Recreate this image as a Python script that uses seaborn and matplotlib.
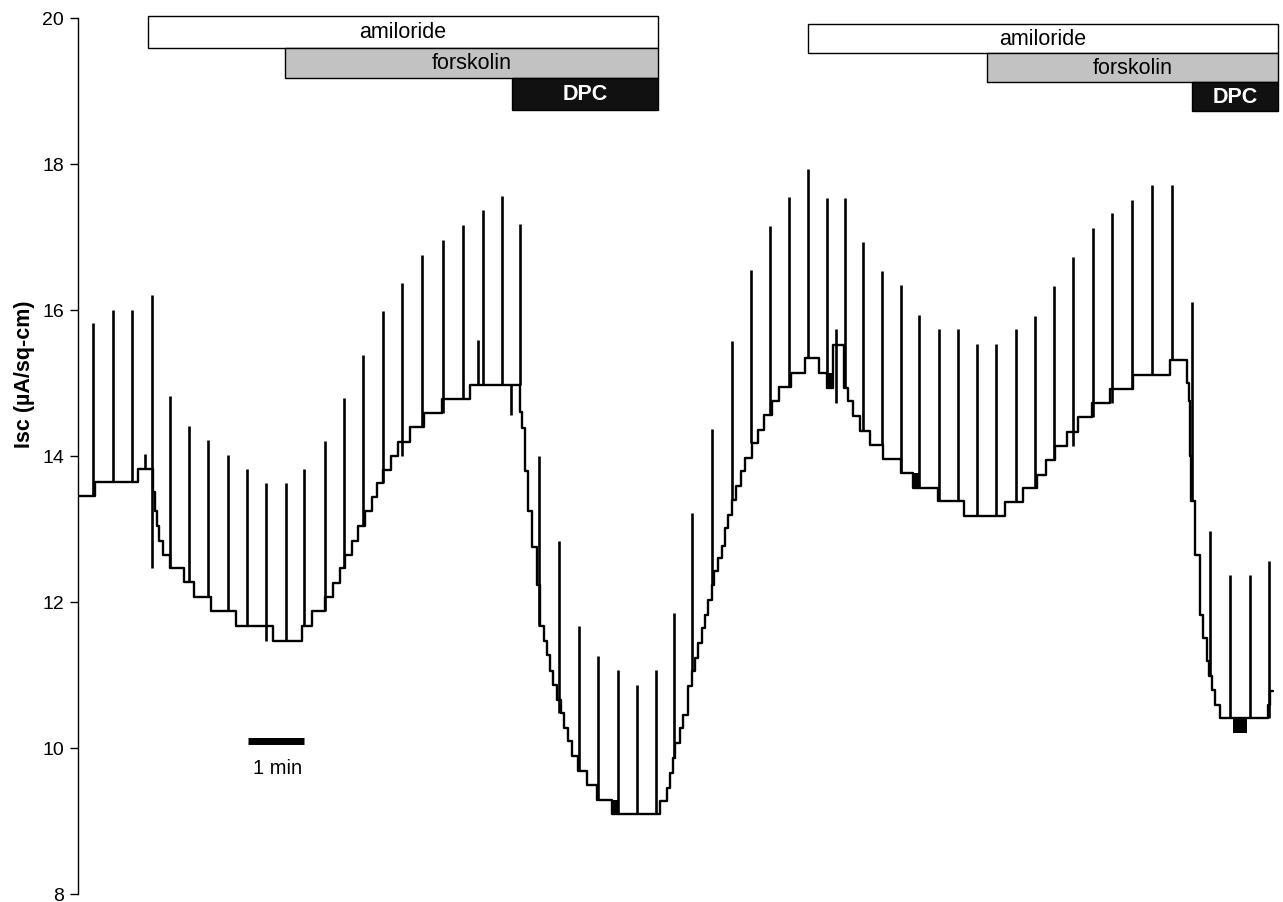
import numpy as np
import pandas as pd
import matplotlib
matplotlib.use("Agg")
import matplotlib.pyplot as plt
import seaborn as sns

# baseline short-circuit current (step trace), time in s, Isc in uA/sq-cm
trace_t = [0, 18, 64, 80, 83, 85, 87, 91, 99, 114, 124, 143, 169, 209, 240, 251, 265, 273,
           281, 286, 294, 300, 307, 315, 320, 327, 335, 343, 356, 371, 390, 420,
           474, 476, 479, 482, 486, 492, 495, 499, 503, 506, 509, 513, 517, 521, 525, 529,
           536, 545, 556, 572, 624, 631, 634, 638, 640, 645, 648, 653, 654, 658, 661, 664,
           669, 672, 675, 679, 681, 686, 690, 693, 696, 701, 705, 710, 715, 722, 728, 735,
           744, 751, 764, 779, 794, 802, 809, 821, 825, 830, 838, 849, 862, 882, 895, 921,
           949, 993, 1012, 1027, 1037, 1047, 1060, 1071, 1086, 1106, 1130, 1170, 1188, 1190,
           1191, 1192, 1197, 1202, 1205, 1210, 1212, 1215, 1218, 1224, 1275, 1277, 1280]
trace_isc = [13.45, 13.65, 13.82, 13.5, 13.25, 13.04, 12.84, 12.64, 12.47, 12.27, 12.07, 11.88,
             11.67, 11.47, 11.67, 11.88, 12.07, 12.26, 12.47, 12.64, 12.84, 13.04, 13.25, 13.44,
             13.63, 13.81, 14.0, 14.19, 14.4, 14.59, 14.78, 14.97,
             14.6, 14.38, 13.8, 13.25, 12.75, 12.23, 11.67, 11.47, 11.27, 11.05, 10.86, 10.66,
             10.48, 10.27, 10.1, 9.89, 9.68, 9.49, 9.29, 9.1, 9.27, 9.45, 9.66, 9.86, 10.07,
             10.27, 10.45, 10.66, 10.85, 11.05, 11.23, 11.44, 11.64, 11.82, 12.03, 12.23, 12.42,
             12.6, 12.77, 13.01, 13.19, 13.4, 13.59, 13.79, 13.97, 14.18, 14.36, 14.56, 14.75,
             14.95, 15.14, 15.34, 15.14, 14.93, 15.52, 14.93, 14.75, 14.55, 14.34, 14.15, 13.96,
             13.77, 13.56, 13.38, 13.18, 13.37, 13.56, 13.74, 13.94, 14.14, 14.33, 14.53, 14.73,
             14.92, 15.11, 15.31, 15.0, 14.75, 14.0, 13.38, 12.64, 11.82, 11.5, 11.19, 10.99,
             10.8, 10.59, 10.41, 10.59, 10.78, 10.78]

# voltage pulse deflections: time, bottom, top
spike_t = [16, 38, 58, 72, 79, 99, 119, 139, 161, 181, 201, 223, 242, 265, 285, 305, 327, 347,
           369, 391, 412, 429, 434, 454, 464, 474, 494, 515, 537, 557, 579, 599, 619, 639, 658,
           679, 701, 721, 741, 762, 782, 802, 812, 822, 841, 861, 882, 901, 922, 943, 963, 984,
           1005, 1025, 1046, 1066, 1087, 1108, 1129, 1151, 1172, 1194, 1213, 1234, 1256, 1276]
spike_lo = [13.45, 13.65, 13.65, 13.82, 12.47, 12.47, 12.27, 12.07, 11.88, 11.67, 11.47, 11.47,
            11.67, 11.88, 12.47, 13.04, 13.63, 14.0, 14.4, 14.59, 14.78, 14.97, 14.97, 14.97,
            14.56, 14.97, 11.67, 10.48, 9.68, 9.29, 9.1, 9.1, 9.1, 9.86, 11.05, 12.23, 13.4,
            14.18, 14.56, 14.95, 15.34, 14.93, 14.73, 14.93, 14.34, 14.15, 13.77, 13.56, 13.38,
            13.38, 13.18, 13.18, 13.37, 13.56, 13.94, 14.14, 14.53, 14.73, 14.92, 15.11, 15.31,
            13.38, 10.99, 10.41, 10.41, 10.41]
spike_hi = [15.82, 16.0, 16.0, 14.03, 16.2, 14.82, 14.41, 14.22, 14.01, 13.82, 13.63, 13.63,
            13.82, 14.2, 14.8, 15.38, 15.98, 16.37, 16.75, 16.96, 17.16, 15.59, 17.37, 17.56,
            14.97, 17.18, 14.0, 12.84, 11.67, 11.26, 11.07, 10.86, 11.07, 11.85, 13.22, 14.37,
            15.58, 16.55, 17.15, 17.55, 17.93, 17.53, 15.74, 17.53, 16.93, 16.53, 16.34, 15.93,
            15.74, 15.74, 15.54, 15.54, 15.74, 15.92, 16.33, 16.73, 17.12, 17.33, 17.51, 17.71,
            17.71, 16.11, 12.97, 12.37, 12.37, 12.56]

# filled noisy patches on the trace
noise_t0 = [572, 802, 895, 1237]
noise_t1 = [579, 808, 901, 1252]
noise_lo = [9.1, 14.93, 13.56, 10.21]
noise_hi = [9.29, 15.14, 13.77, 10.41]

# drug applications (s)
drugs = ["amiloride", "forskolin", "DPC", "amiloride", "forskolin", "DPC"]
drug_start = [75, 222, 465, 782, 974, 1194]
drug_end = [621, 621, 621, 1286, 1286, 1286]

yticks = [8, 10, 12, 14, 16, 18, 20]

sns.set_style("ticks")
plt.rcParams['font.family'] = ['Liberation Sans', 'DejaVu Sans']

fig = plt.figure(figsize=(12.83, 9.03), dpi=100)
ax = fig.add_axes([78 / 1283, 0, 1205 / 1283, 1])

df = pd.DataFrame({"t": trace_t, "isc": trace_isc})
sns.lineplot(data=df, x="t", y="isc", ax=ax, color="black", linewidth=1.7,
             drawstyle="steps-post", estimator=None, sort=False)
ax.vlines(spike_t, spike_lo, spike_hi, color="black", lw=1.9)
for a, b, lo, hi in zip(noise_t0, noise_t1, noise_lo, noise_hi):
    ax.fill_between([a, b], lo, hi, color="black", lw=0)

# drug bars
row_y = [19.81, 19.385, 18.96, 19.72, 19.32, 18.925]
row_h = [0.44, 0.41, 0.44, 0.40, 0.40, 0.39]
fills = {"amiloride": "white", "forskolin": "#c2c2c2", "DPC": "#111111"}
tcols = {"amiloride": "black", "forskolin": "black", "DPC": "white"}
for name, s0, s1, y, h in zip(drugs, drug_start, drug_end, row_y, row_h):
    ax.barh(y, s1 - s0, left=s0, height=h, color=fills[name], edgecolor="black", lw=1.0)
    ax.text((s0 + s1) / 2, y, name, ha="center", va="center", fontsize=15.5,
            color=tcols[name], fontweight="bold" if name == "DPC" else "normal")

# 1 min scale bar
ax.plot([182, 242], [10.1, 10.1], color="black", lw=5, solid_capstyle="butt")
ax.text(214, 9.73, "1 min", ha="center", va="center", fontsize=14.5, color="black")

ax.set_xlim(0, 1291)
ax.set_ylim(7.89, 20.26)
ax.set_yticks(yticks)
ax.set_xticks([])
ax.set_xlabel("")
ax.set_ylabel("Isc (\u00b5A/sq-cm)", fontsize=15.5, fontweight="bold", color="black")
ax.yaxis.set_label_coords(-0.036, 0.585)
ax.tick_params(axis="y", labelsize=14, length=6, width=1, pad=4,
               color="black", labelcolor="black")
for s in ["top", "right", "bottom"]:
    ax.spines[s].set_visible(False)
ax.spines["left"].set_bounds(8, 20)
ax.spines["left"].set_linewidth(1)
ax.spines["left"].set_color("black")

fig.savefig("out.png", dpi=100)
